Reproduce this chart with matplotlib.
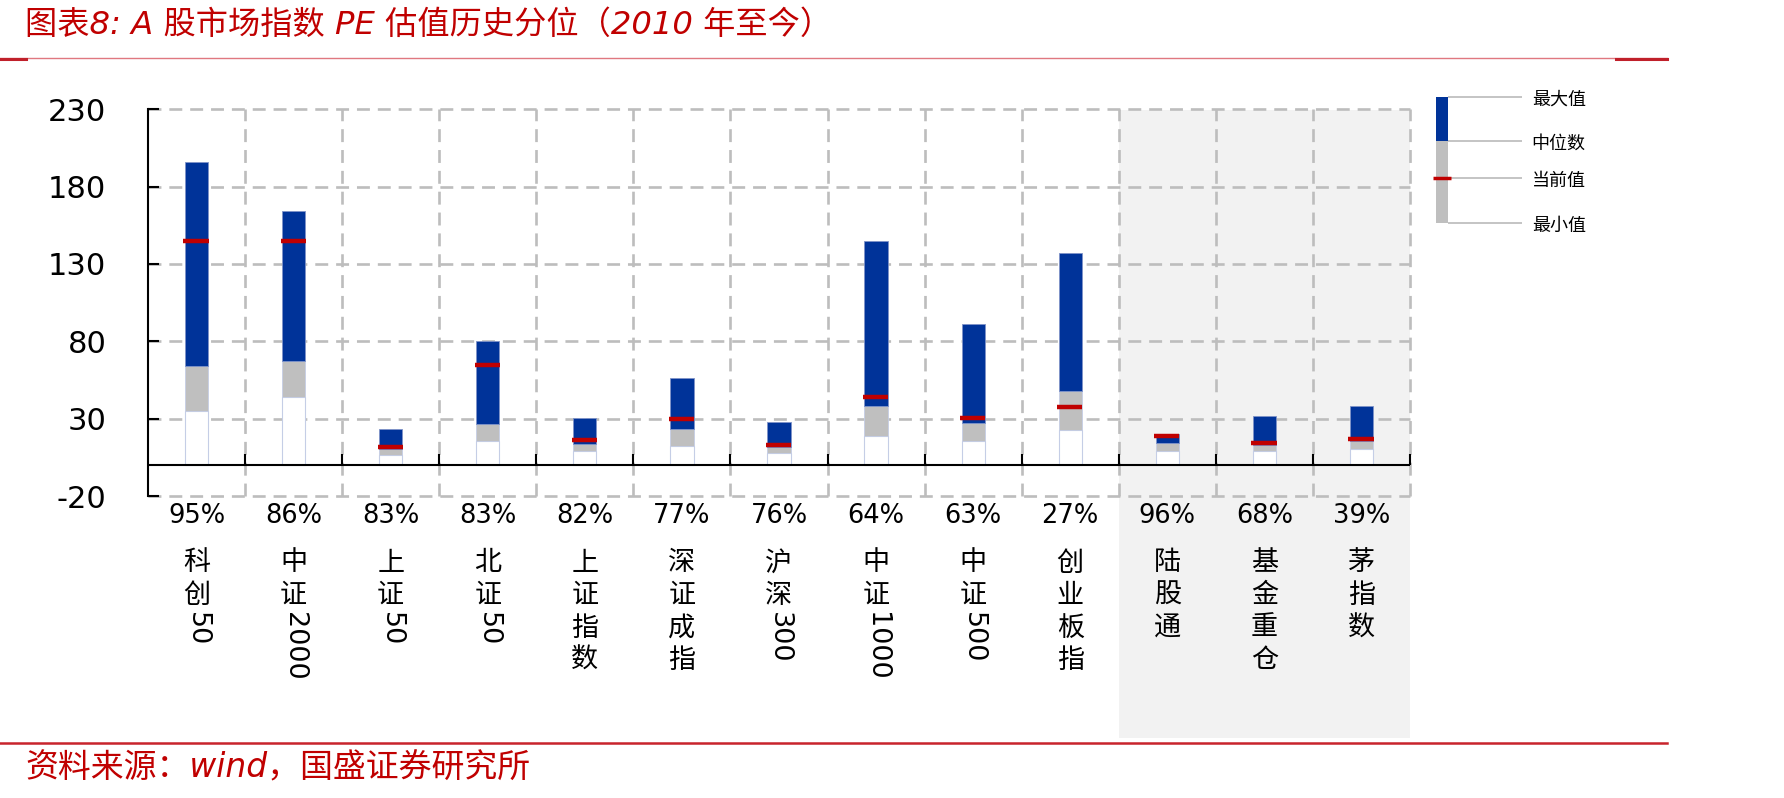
import matplotlib
matplotlib.use("Agg")
import matplotlib.pyplot as plt
import matplotlib.transforms as mtransforms
from matplotlib.patches import Rectangle
from matplotlib.lines import Line2D
import numpy as np

plt.rcParams['font.family'] = ['DejaVu Sans', 'Noto Sans CJK SC']
plt.rcParams['axes.unicode_minus'] = False

# data
names = ['科创50', '中证2000', '上证50', '北证50', '上证指数', '深证成指', '沪深300',
         '中证1000', '中证500', '创业板指', '陆股通', '基金重仓', '茅指数']
pct_rank = ['95%', '86%', '83%', '83%', '82%', '77%', '76%', '64%', '63%', '27%',
            '96%', '68%', '39%']
pe_max = [196, 164, 23.5, 80.5, 30.5, 56, 28, 145, 91, 137, 20, 32, 38.5]
pe_median = [64, 67, 10.3, 26.5, 13.5, 23.5, 12, 38.5, 27.5, 48, 14.5, 13, 15.5]
pe_current = [145, 145, 11.6, 64.5, 16, 29.5, 13, 44, 30.5, 37.5, 18.5, 14.5, 17]
pe_min = [35, 44, 6.5, 15.5, 9, 12.5, 8, 18.5, 15.5, 22.5, 9, 9, 10.5]
yticks = [-20, 30, 80, 130, 180, 230]
shaded_from = 10  # 陆股通 onward sits on a grey background

legend_labels = ['最大值', '中位数', '当前值', '最小值']
legend_levels = [0.92, 0.63, 0.38, 0.08]

BLUE = '#003399'
GREY = '#BFBFBF'
RED = '#C00000'
GRID = '#BDBDBD'

W, H = 1784, 798
fig = plt.figure(figsize=(W / 100, H / 100), dpi=100)


def fy(px):
    return 1 - px / H


ax = fig.add_axes([148 / W, fy(496), (1410 - 148) / W, (496 - 109.3) / H])
n = len(names)
x = np.arange(n) + 0.5
bw = 0.24
edge = '#C5CEE6'

ax.bar(x, pe_min, width=bw, color='white', edgecolor=edge, lw=0.8, zorder=2)
ax.bar(x, np.subtract(pe_median, pe_min), bottom=pe_min, width=bw, color=GREY,
       edgecolor=edge, lw=0.6, zorder=2)
ax.bar(x, np.subtract(pe_max, pe_median), bottom=pe_median, width=bw, color=BLUE,
       edgecolor='#7F93C8', lw=0.6, zorder=2)
ax.hlines(pe_current, x - 0.135, x + 0.125, color=RED, lw=3.2, zorder=3)

ax.set_xlim(0, n)
ax.set_ylim(-20, 230)
ax.set_yticks(yticks)
ax.set_xticks(np.arange(1, n + 1))
ax.tick_params(axis='x', length=0, labelbottom=False)
ax.tick_params(axis='y', direction='in', length=8, width=1.5, pad=30, labelsize=22)
ax.set_axisbelow(True)
ax.grid(True, color=GRID, lw=1.9, linestyle=(0, (4.9, 3.0)))
for gl in ax.get_xgridlines() + ax.get_ygridlines():
    gl.set_clip_on(False)
for s in ['top', 'right', 'bottom']:
    ax.spines[s].set_visible(False)
ax.spines['left'].set_linewidth(1.5)
ax.patch.set_visible(False)

# zero line with upward ticks at category boundaries
ax.axhline(0, color='black', lw=1.5, zorder=4)
ax.plot(np.arange(1, n + 1), np.zeros(n), ls='none', marker=2, ms=8, mew=1.5,
        color='black', clip_on=False, zorder=4)

# grey band behind the last three groups
btr = mtransforms.blended_transform_factory(ax.transData, fig.transFigure)
ax.add_patch(Rectangle((shaded_from, fy(738)), n - shaded_from, fy(110) - fy(738),
                       transform=btr, facecolor='#F2F2F2', edgecolor='none',
                       clip_on=False, zorder=0.1))

# percent labels and vertical category names
for i, (name, p) in enumerate(zip(names, pct_rank)):
    ax.text(x[i], fy(516), p, transform=btr, ha='center', va='center',
            fontsize=18.5, family='DejaVu Sans', zorder=5)
    cjk = ''.join(c for c in name if not c.isdigit())
    digits = ''.join(c for c in name if c.isdigit())
    for k, ch in enumerate(cjk):
        ax.text(x[i], fy(563 + 32.5 * k), ch, transform=btr, ha='center',
                va='center', fontsize=19.5, family='Noto Sans CJK SC', zorder=5)
    if digits:
        ax.text(x[i], fy(563 + 32.5 * (len(cjk) - 1) + 16), digits, transform=btr,
                ha='center', va='top', rotation=-90, fontsize=19.5,
                family='DejaVu Sans', zorder=5)

# legend drawn as a small schematic
lax = fig.add_axes([1425 / W, fy(235), 240 / W, 150 / H])
lax.set_xlim(0, 240)
lax.set_ylim(0, 1)
lax.axis('off')
lmax, lmed, lcur, lmin = legend_levels
lax.bar(17, lmed - lmin, bottom=lmin, width=12.6, color=GREY)
lax.bar(17, lmax - lmed, bottom=lmed, width=12.6, color=BLUE)
lax.hlines(legend_levels, 23.3, 96.7, color=GREY, lw=1.3)
lax.hlines(lcur, 8, 26, color=RED, lw=2.5)
for lv, lab in zip(legend_levels, legend_labels):
    lax.text(106.7, lv - 0.02, lab, ha='left', va='center', fontsize=13,
             family='Noto Sans CJK SC')

# title, source and red rules
fig.text(25 / W, fy(25), '图表8: A 股市场指数 PE 估值历史分位（2010 年至今）',
         color=RED, fontsize=23.2, style='italic', ha='left', va='center')
fig.text(25 / W, fy(768), '资料来源：wind，国盛证券研究所', color=RED, fontsize=23.7,
         style='italic', ha='left', va='center')
fig.add_artist(Line2D([0, 1667 / W], [fy(58), fy(58)], color='#E07880', lw=1.0,
                      transform=fig.transFigure))
fig.add_artist(Line2D([0, 26 / W], [fy(59), fy(59)], color='#C0202A', lw=2.2,
                      transform=fig.transFigure))
fig.add_artist(Line2D([1616 / W, 1667 / W], [fy(59), fy(59)], color='#C0202A', lw=2.2,
                      transform=fig.transFigure))
fig.add_artist(Line2D([0, 1667 / W], [fy(742.5), fy(742.5)], color='#C8242C', lw=1.8,
                      transform=fig.transFigure))

fig.savefig('out.png', dpi=100)
